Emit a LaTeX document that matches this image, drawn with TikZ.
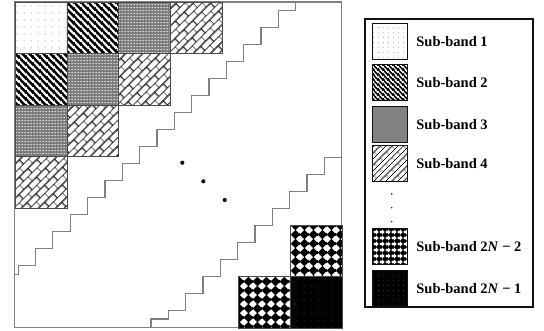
\documentclass[tikz,border=0pt]{standalone}
\usepackage{fontspec}
\setmainfont{Liberation Serif}
\usetikzlibrary{positioning,patterns.meta}
\definecolor{ink}{HTML}{111111}
\definecolor{rule}{HTML}{808080}
\definecolor{edge}{HTML}{4A4A4A}
\colorlet{bandbg1}{white}
\colorlet{bandbg2}{white}
\colorlet{bandbg3}{black!52}
\colorlet{bandbg4}{white}
\colorlet{bandbg5}{white}
\colorlet{bandbg6}{black}

% one set of sub-band fillings: #1 name prefix, #2 scale
\newcommand\bandpatterns[2]{%
  \tikzdeclarepattern{name=#11,type=colored,
    bottom left={(0pt,0pt)},top right={(#2*7pt,#2*7pt)},tile size={(#2*7pt,#2*7pt)},
    code={\tikzset{x=#2pt,y=#2pt}
      \fill[gray!85] (3.5,3.5) circle (0.7);}}%
  \tikzdeclarepattern{name=#12,type=colored,
    bottom left={(0pt,0pt)},top right={(#2*6.8pt,#2*6.8pt)},tile size={(#2*6.8pt,#2*6.8pt)},
    code={\tikzset{x=#2pt,y=#2pt}
      \draw[black,line width=#2*2.5pt] (-6.8,13.6) -- (13.6,-6.8)
        (-6.8,6.8) -- (6.8,-6.8) (0,13.6) -- (13.6,0);}}%
  \tikzdeclarepattern{name=#13,type=colored,
    bottom left={(0pt,0pt)},top right={(#2*2.8pt,#2*2.8pt)},tile size={(#2*2.8pt,#2*2.8pt)},
    code={\tikzset{x=#2pt,y=#2pt}
      \fill[black!22] (1.4,1.4) circle (0.55);}}%
  \tikzdeclarepattern{name=#14,type=colored,
    bottom left={(0pt,0pt)},top right={(#2*13pt,#2*12pt)},tile size={(#2*13pt,#2*12pt)},
    tile transformation={rotate=45},
    code={\tikzset{x=#2pt,y=#2pt}
      \draw[black,line width=#2*0.9pt] (0,0) -- (13,0) (0,6) -- (13,6) (0,12) -- (13,12)
        (0,0) -- (0,6) (13,0) -- (13,6) (6.5,6) -- (6.5,12);}}%
  \tikzdeclarepattern{name=#15,type=colored,
    bottom left={(0pt,0pt)},top right={(#2*9.4pt,#2*9.4pt)},tile size={(#2*9.4pt,#2*9.4pt)},
    code={\tikzset{x=#2pt,y=#2pt}
      \fill[black] (4.7,-0.3) -- (9.7,4.7) -- (4.7,9.7) -- (-0.3,4.7) -- cycle;}}%
  \tikzdeclarepattern{name=#16,type=colored,
    bottom left={(0pt,0pt)},top right={(#2*7pt,#2*7pt)},tile size={(#2*7pt,#2*7pt)},
    code={\tikzset{x=#2pt,y=#2pt}
      \fill[black!55] (3.5,3.5) circle (0.55);}}%
}
\bandpatterns{band}{1}
\bandpatterns{key}{0.68}

\tikzset{
  frame/.style={draw=rule,line width=1.1pt},
  stair/.style={draw=rule,line width=1.1pt},
  band/.style={draw=edge,line width=0.7pt,inner sep=0pt,anchor=north west,
    minimum width=51.8pt,minimum height=51.4pt,
    preaction={fill=bandbg#1},pattern=band#1},
  swatch/.style={draw=ink,line width=1pt,inner sep=0pt,
    minimum width=35pt,minimum height=36pt,
    preaction={fill=bandbg#1},pattern=key#1},
  keybox/.style={draw=ink,line width=2pt},
  keytext/.style={inner sep=0pt,font=\fontsize{14.5}{17}\selectfont\bfseries},
  bigdot/.style={circle,fill=ink,inner sep=0pt,minimum size=4.2pt},
  smalldot/.style={circle,fill=ink,inner sep=0pt,minimum size=1.6pt}
}

\begin{document}
\begin{tikzpicture}[x=1pt,y=-1pt]
  \useasboundingbox (0,0) rectangle (544,331);
  \draw[frame] (14.7,2) rectangle (341.7,327.7);

  % sub-bands in the upper left corner
  \foreach \c/\r/\n in {0/0/1,1/0/2,2/0/3,3/0/4,0/1/2,1/1/3,2/1/4,0/2/3,1/2/4,0/3/4}
    \node[band=\n] (b\c\r) at (14.7+51.8*\c,2+51.4*\r) {};
  % sub-bands in the lower right corner
  \node[band=5] (b54) at (289.9,224.9) {};
  \node[band=5] (b45) at (238.1,276.3) {};
  \node[band=6] (b55) at (289.9,276.3) {};

  \draw[stair] (295.7,2) -- (295.7,10.7)
    \foreach \i in {1,...,15}{ -- ++(-17.34,0) -- ++(0,17)}
    -- ++(-17.34,0) -- ++(0,9) -- (14.7,274.7);
  \draw[stair] (341.7,157.3)
    \foreach \i in {1,...,9}{ -- ++(-17.34,0) -- ++(0,17)}
    -- ++(-17.34,0) -- ++(0,8.7) -- ++(-17.34,0) -- ++(0,8.7);

  \foreach \px/\py [count=\i] in {182.3/162.7,203.3/181.3,224.7/200}
    \node[bigdot] (d\i) at (\px,\py) {};

  % legend
  \draw[keybox] (364.5,19) rectangle (533.3,307.5);
  \node[swatch=1] (k1) at (390.2,41.3) {};
  \node[swatch=2] (k2) at (390.2,82.5) {};
  \node[swatch=3] (k3) at (390.2,124.2) {};
  \node[swatch=4] (k4) at (390.2,163.9) {};
  \node[swatch=5] (k5) at (390.2,246.3) {};
  \node[swatch=6] (k6) at (390.2,288.2) {};
  \foreach \py [count=\i] in {194,207.7,221.7}
    \node[smalldot] (v\i) at (391.7,\py) {};

  \node[keytext,right=8pt of k1] (t1) {Sub-band 1};
  \node[keytext,right=8pt of k2] (t2) {Sub-band 2};
  \node[keytext,right=8pt of k3] (t3) {Sub-band 3};
  \node[keytext,right=8pt of k4] (t4) {Sub-band 4};
  \node[keytext,right=8pt of k5] (t5) {Sub-band 2\textit{N} − 2};
  \node[keytext,right=8pt of k6] (t6) {Sub-band 2\textit{N} − 1};
\end{tikzpicture}
\end{document}
